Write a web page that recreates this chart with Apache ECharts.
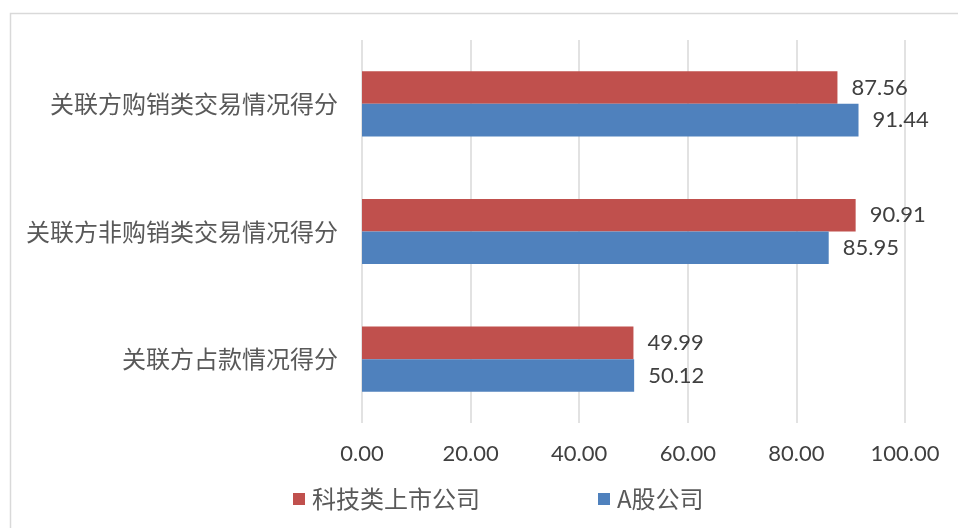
<!DOCTYPE html>
<html>
<head>
<meta charset="utf-8">
<script src="https://cdn.jsdelivr.net/npm/echarts@6/dist/echarts.min.js"></script>
<style>
  html, body { margin: 0; padding: 0; background: #ffffff; }
  #chart { width: 958px; height: 528px; }
</style>
</head>
<body>
<div id="chart"></div>
<script>
// Score categories, listed top to bottom
const categories = ['关联方购销类交易情况得分', '关联方非购销类交易情况得分', '关联方占款情况得分'];
// Series names
const seriesNames = ['科技类上市公司', 'A股公司'];
// Scores for technology listed companies
const techScores = [87.56, 90.91, 49.99];
// Scores for all A-share companies
const aShareScores = [91.44, 85.95, 50.12];
// Value axis ticks
const axisMin = 0, axisMax = 100, axisStep = 20;

const labelFont = 'Lato, "Noto Sans", sans-serif';
const cjkFont = '"Noto Sans CJK SC", sans-serif';

const valueLabel = {
  show: true, position: 'right', distance: 14,
  fontFamily: labelFont, fontSize: 22, color: '#404040',
  formatter: p => p.value.toFixed(2)
};

const chart = echarts.init(document.getElementById('chart'));
chart.setOption({
  backgroundColor: '#ffffff',
  animation: false,
  graphic: [{
    type: 'rect',
    shape: { x: 10.5, y: 13.5, width: 1000, height: 600 },
    style: { fill: 'none', stroke: '#d9d9d9', lineWidth: 1.5 },
    silent: true
  }],
  grid: { left: 362, right: 53, top: 40, bottom: 105, containLabel: false },
  legend: {
    data: seriesNames,
    bottom: 12,
    left: 288,
    itemWidth: 12,
    itemHeight: 12,
    itemGap: 118,
    icon: 'rect',
    textStyle: { fontFamily: cjkFont, fontSize: 24, color: '#595959', padding: [0, 0, 0, 2] }
  },
  xAxis: {
    type: 'value',
    min: axisMin,
    max: axisMax,
    interval: axisStep,
    axisLine: { show: false },
    axisTick: { show: false },
    splitLine: { lineStyle: { color: '#d9d9d9', width: 1.5 } },
    axisLabel: {
      margin: 20,
      fontFamily: labelFont,
      fontSize: 22,
      color: '#404040',
      formatter: v => v.toFixed(2)
    }
  },
  yAxis: {
    type: 'category',
    inverse: true,
    data: categories,
    axisLine: { show: false },
    axisTick: { show: false },
    axisLabel: { margin: 24, fontFamily: cjkFont, fontSize: 24, color: '#595959' }
  },
  series: [
    {
      name: seriesNames[0],
      type: 'bar',
      data: techScores,
      barGap: '0%',
      barCategoryGap: '49%',
      itemStyle: { color: '#c0504d' },
      label: valueLabel
    },
    {
      name: seriesNames[1],
      type: 'bar',
      data: aShareScores,
      barGap: '0%',
      barCategoryGap: '49%',
      itemStyle: { color: '#4f81bd' },
      label: valueLabel
    }
  ]
});
</script>
</body>
</html>
